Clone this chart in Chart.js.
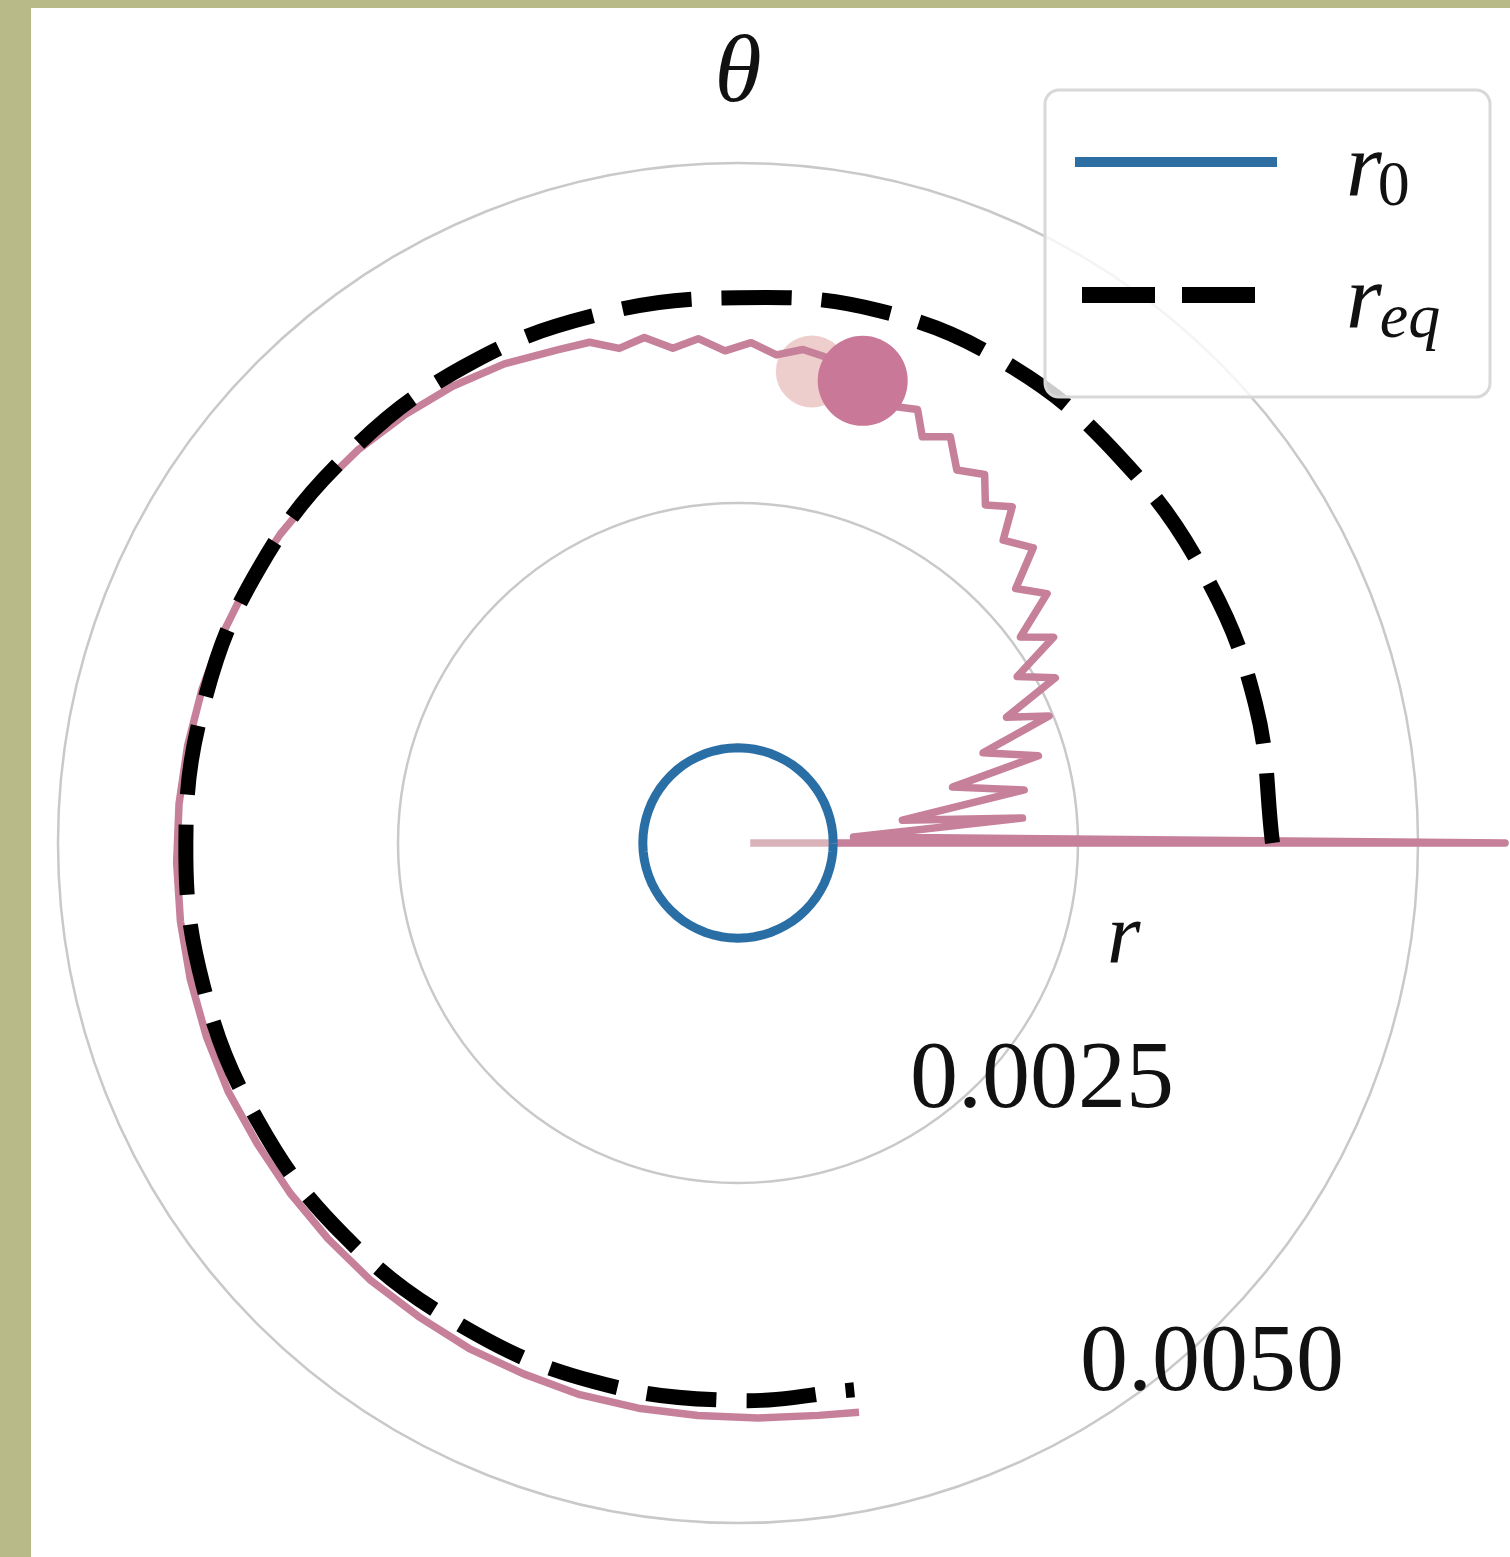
<!DOCTYPE html>
<html>
<head>
<meta charset="utf-8">
<script src="https://cdn.jsdelivr.net/npm/chart.js@4.4.1/dist/chart.umd.min.js"></script>
<style>
  html, body { margin: 0; padding: 0; background: #b8ba88; width: 1510px; height: 1557px; overflow: hidden; }
  #wrap { position: absolute; left: 31px; top: 8px; width: 1479px; height: 1549px; background: #ffffff; }
  canvas { display: block; }
</style>
</head>
<body>
<div id="wrap"><canvas id="c" width="1479" height="1549"></canvas></div>
<script>
// ---- polar data (angles in degrees, radii in model units) ----
const rTicks = [0.0025, 0.0050];
const rTickLabels = ['0.0025', '0.0050'];

// reference radius r0 (constant circle)
const r0 = 0.00070;

// equilibrium radius r_eq along the orbit
const rEqTheta = [0, 15, 30, 45, 60, 75, 90, 105, 120, 135, 150, 165, 180, 195, 210, 225, 240, 255, 270, 282];
const rEqR = [0.00393, 0.00394, 0.00396, 0.00399, 0.00404, 0.00405, 0.00401, 0.00402, 0.00404, 0.00405,
              0.00406, 0.00406, 0.00406, 0.00407, 0.00408, 0.00409, 0.00409, 0.00410, 0.00410, 0.00411];

// particle trajectory
const trajTheta = [0, 0, 0, 3.0,
  5.0, 7.9, 10.5, 14.6, 16.2, 20.2, 22.2, 25.1, 27.5, 30.8, 33.1, 36.1, 38.9, 42.5, 45.0, 48.8,
  50.8, 53.8, 56.2, 59.6, 62.4, 65.6, 67.5, 71.0, 74.9, 78.5,
  82.5, 85.5, 88.5, 91.5, 94.5, 97.5, 100.5, 103.5, 106.5,
  110, 116, 122, 128, 134, 140, 146, 152, 158, 164, 170, 176, 182, 188, 194, 200, 206, 212,
  218, 224, 230, 236, 242, 248, 254, 260, 266, 272, 278, 282];
const trajR = [0.00009, 0.00072, 0.00564, 0.00085,
  0.00210, 0.00122, 0.00214, 0.00163, 0.00230, 0.00192, 0.00247, 0.00218, 0.00263, 0.00239,
  0.00277, 0.00257, 0.00292, 0.00277, 0.00307, 0.00296,
  0.00319, 0.00308, 0.00326, 0.00318, 0.00337, 0.00328, 0.00345, 0.00340, 0.00352, 0.00362,
  0.00366, 0.00360, 0.00368, 0.00362, 0.00372, 0.00367, 0.00378, 0.00374, 0.00384,
  0.00386, 0.00392, 0.00396, 0.00399, 0.00402, 0.00404, 0.00406, 0.00408, 0.00409, 0.00410,
  0.00411, 0.00412, 0.00413, 0.00414, 0.00415, 0.00416, 0.00417, 0.00417,
  0.00418, 0.00419, 0.00420, 0.00420, 0.00421, 0.00421, 0.00422, 0.00422, 0.00422, 0.00423,
  0.00425, 0.00428];

// current particle position and its fading previous position
const markerTheta = [74.9];
const markerR = [0.00352];
const ghostTheta = [81.1];
const ghostR = [0.00351];

// ---- helpers ----
const toXY = (thDeg, r) => {
  const t = thDeg * Math.PI / 180;
  return { x: r * Math.cos(t), y: r * Math.sin(t) };
};
const polarPoints = (thetas, radii) => thetas.map((t, i) => toXY(t, radii[i]));
const circleTheta = Array.from({ length: 73 }, (_, i) => i * 5);

// ---- view geometry ----
const W = 1479, H = 1549;
const CX = 707, CY = 835;          // pole position on the canvas
const PX_PER_UNIT = 136000;        // radial scale

const serif = '"Liberation Serif", "Times New Roman", serif';

// polar grid circles
const polarGrid = {
  id: 'polarGrid',
  beforeDatasetsDraw(chart) {
    const { ctx, scales: { x, y } } = chart;
    const cx = x.getPixelForValue(0), cy = y.getPixelForValue(0);
    ctx.save();
    ctx.strokeStyle = '#c9c9c9';
    ctx.lineWidth = 2.5;
    rTicks.forEach(t => {
      const rad = x.getPixelForValue(t) - cx;
      ctx.beginPath();
      ctx.arc(cx, cy, rad, 0, Math.PI * 2);
      ctx.stroke();
    });
    ctx.restore();
  }
};

// axis texts, tick labels and legend
const polarText = {
  id: 'polarText',
  afterDraw(chart) {
    const { ctx, scales: { x, y } } = chart;
    const cx = x.getPixelForValue(0), cy = y.getPixelForValue(0);
    ctx.save();
    ctx.fillStyle = '#111111';
    ctx.textBaseline = 'alphabetic';

    // radial tick labels
    ctx.font = '96px ' + serif;
    ctx.textAlign = 'left';
    const tickOffsets = [[172, 264], [342, 547]];
    rTickLabels.forEach((lab, i) => {
      ctx.fillText(lab, cx + tickOffsets[i][0], cy + tickOffsets[i][1]);
    });

    // axis names
    ctx.font = 'italic 96px ' + serif;
    ctx.textAlign = 'center';
    ctx.fillText('θ', cx, cy - 742);
    ctx.font = 'italic 86px ' + serif;
    ctx.textAlign = 'left';
    ctx.fillText('r', cx + 369, cy + 120);

    // legend frame
    const lx = 1014, ly = 82, lw = 445, lh = 307, rr = 14;
    ctx.beginPath();
    ctx.moveTo(lx + rr, ly);
    ctx.arcTo(lx + lw, ly, lx + lw, ly + lh, rr);
    ctx.arcTo(lx + lw, ly + lh, lx, ly + lh, rr);
    ctx.arcTo(lx, ly + lh, lx, ly, rr);
    ctx.arcTo(lx, ly, lx + lw, ly, rr);
    ctx.closePath();
    ctx.fillStyle = 'rgba(255,255,255,0.8)';
    ctx.fill();
    ctx.strokeStyle = '#d8d8d8';
    ctx.lineWidth = 3;
    ctx.stroke();

    // legend handles
    ctx.lineCap = 'butt';
    ctx.strokeStyle = '#2e6fa3';
    ctx.lineWidth = 10;
    ctx.beginPath();
    ctx.moveTo(1044, 154);
    ctx.lineTo(1246, 154);
    ctx.stroke();

    ctx.strokeStyle = '#000000';
    ctx.lineWidth = 16;
    ctx.setLineDash([73, 27]);
    ctx.beginPath();
    ctx.moveTo(1051, 287);
    ctx.lineTo(1224, 287);
    ctx.stroke();
    ctx.setLineDash([]);

    // legend labels: r0 and r_eq
    ctx.fillStyle = '#111111';
    ctx.textAlign = 'left';
    ctx.font = 'italic 92px ' + serif;
    ctx.fillText('r', 1315, 187);
    const rw = ctx.measureText('r').width;
    ctx.font = '64px ' + serif;
    ctx.fillText('0', 1315 + rw - 4, 197);

    ctx.font = 'italic 92px ' + serif;
    ctx.fillText('r', 1315, 319);
    ctx.font = 'italic 64px ' + serif;
    ctx.fillText('eq', 1315 + rw - 2, 329);
    ctx.restore();
  }
};

const pink = '#c7809a';

new Chart(document.getElementById('c'), {
  type: 'scatter',
  data: {
    datasets: [
      {
        label: 'particle',
        data: polarPoints(markerTheta, markerR),
        pointRadius: 45,
        pointBackgroundColor: '#c97898',
        pointBorderWidth: 0,
        showLine: false
      },
      {
        label: 'r_eq',
        data: polarPoints(rEqTheta, rEqR),
        showLine: true,
        borderColor: '#000000',
        borderWidth: 15,
        borderDash: [70, 30],
        borderCapStyle: 'butt',
        tension: 0.4,
        pointRadius: 0
      },
      {
        label: 'r0',
        data: circleTheta.map(t => toXY(t, r0)),
        showLine: true,
        borderColor: '#2a6ea6',
        borderWidth: 9,
        tension: 0,
        pointRadius: 0
      },
      {
        label: 'trajectory',
        data: polarPoints(trajTheta, trajR),
        showLine: true,
        borderColor: pink,
        borderWidth: 7.5,
        borderJoinStyle: 'round',
        tension: 0,
        pointRadius: 0,
        segment: {
          borderColor: ctx => ctx.p0DataIndex === 0 ? 'rgba(214,170,178,0.9)' : pink
        }
      },
      {
        label: 'previous position',
        data: polarPoints(ghostTheta, ghostR),
        pointRadius: 36,
        pointBackgroundColor: 'rgba(236,200,200,0.9)',
        pointBorderWidth: 0,
        showLine: false
      }
    ]
  },
  options: {
    responsive: false,
    animation: false,
    devicePixelRatio: 1,
    layout: { padding: 0, autoPadding: false },
    scales: {
      x: { type: 'linear', display: false, bounds: 'data', min: -CX / PX_PER_UNIT, max: (W - CX) / PX_PER_UNIT },
      y: { type: 'linear', display: false, bounds: 'data', min: -(H - CY) / PX_PER_UNIT, max: CY / PX_PER_UNIT }
    },
    plugins: {
      legend: { display: false },
      tooltip: { enabled: false }
    }
  },
  plugins: [polarGrid, polarText]
});
</script>
</body>
</html>
